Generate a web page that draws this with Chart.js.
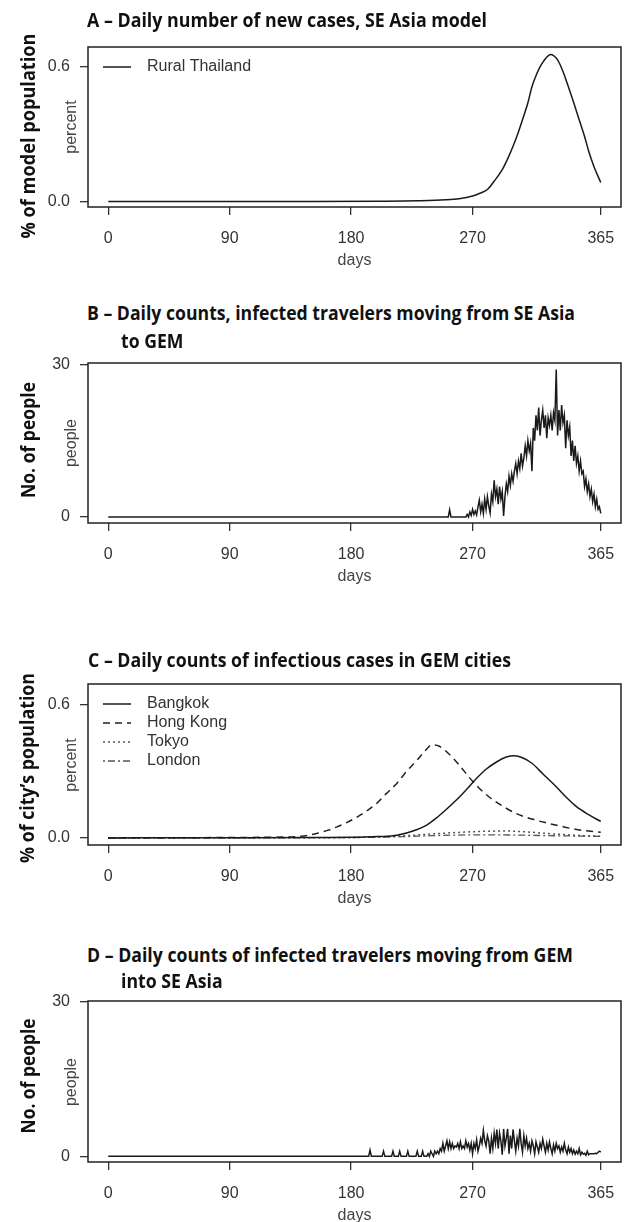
<!DOCTYPE html>
<html><head><meta charset="utf-8">
<script src="https://cdn.jsdelivr.net/npm/chart.js@4.4.1/dist/chart.umd.min.js"></script>
<style>
html,body{margin:0;padding:0;background:#fff;}
body{width:624px;height:1222px;position:relative;overflow:hidden;font-family:"Liberation Sans",Arial,sans-serif;}
canvas{position:absolute;left:0;}
.t{position:absolute;white-space:nowrap;transform-origin:0 50%;font-family:"Open Sans",sans-serif;font-weight:700;font-size:20px;line-height:24px;color:#111;}
.yl{position:absolute;white-space:nowrap;font-family:"Open Sans",sans-serif;font-weight:700;font-size:20px;line-height:24px;color:#111;}
.al{position:absolute;white-space:nowrap;font-family:"Liberation Sans",Arial,sans-serif;font-size:16px;line-height:18px;color:#444;}
</style></head><body>
<script>
// ---------------- data ----------------
const xTickValues = [0, 90, 180, 270, 365];
const percentTicks = [0, 0.6];
const peopleTicks = [0, 30];

// A - Rural Thailand, % of model population
const ruralDays = [0, 50, 100, 150, 200, 230, 250, 260, 270, 275, 281, 286, 292, 296, 300, 304, 307, 311, 314, 318, 320, 322, 324, 326, 328, 330, 332, 334, 337, 341, 345, 349, 353, 356, 360, 365];
const ruralThailand = [0, 0, 0, 0, 0.001, 0.003, 0.007, 0.012, 0.024, 0.035, 0.053, 0.09, 0.142, 0.19, 0.246, 0.31, 0.364, 0.44, 0.512, 0.575, 0.6, 0.62, 0.637, 0.649, 0.655, 0.651, 0.64, 0.621, 0.58, 0.512, 0.44, 0.364, 0.29, 0.225, 0.155, 0.084];

// B - travelers SE Asia -> GEM (0 before the first listed day)
const toGEMFirstDay = 248;
const travelersToGEM = [
  0,0,0,0,0,1.4,0,0,0,0,
  0,0,0,0,0,0,0,0,0.5,0,
  1,0.3,1.5,0.5,1.2,0.4,2,3.3,1,2.5,
  0.7,3.5,1.5,4,2.2,0.8,4.5,3,7.2,4,
  5.5,2.5,6,3.5,5,0.2,4,6.5,5,8,
  6.2,8.5,7,9,10.5,8.5,11,9.5,12.5,10,
  11.5,14,12,15,13,14.5,9,17.5,15,20,
  17,21.5,16,19,21,17.5,20,15.5,19.5,18,
  20,17,20.5,19,29,16,21,17,22,18.5,
  20,13.5,19,16,17.7,12,15,11,14,10.5,
  12,9,11,8.5,9,6,7.5,5,6.5,4,
  5.5,3,4.5,2,3.5,1.5,2,0.7
];

// C - GEM cities, % of city's population
const bangkokDays = [0, 100, 150, 190, 200, 214, 228, 236, 243, 250, 258, 266, 273, 280, 288, 295, 301, 307, 314, 322, 332, 340, 347, 356, 365];
const bangkok = [0, 0.001, 0.002, 0.004, 0.006, 0.012, 0.036, 0.058, 0.089, 0.126, 0.171, 0.222, 0.269, 0.31, 0.344, 0.365, 0.371, 0.362, 0.337, 0.29, 0.231, 0.18, 0.141, 0.105, 0.074];
const hongKongDays = [0, 60, 100, 130, 140, 148, 155, 163, 170, 177, 185, 192, 199, 206, 214, 221, 229, 235, 240, 245, 252, 260, 267, 274, 282, 292, 302, 314, 326, 336, 346, 356, 365];
const hongKong = [0, 0.001, 0.002, 0.004, 0.006, 0.012, 0.021, 0.035, 0.051, 0.07, 0.096, 0.124, 0.156, 0.2, 0.247, 0.3, 0.352, 0.395, 0.42, 0.415, 0.382, 0.33, 0.277, 0.23, 0.186, 0.145, 0.111, 0.085, 0.066, 0.052, 0.039, 0.031, 0.026];
const tokyoDays = [0, 150, 200, 220, 240, 260, 280, 295, 310, 330, 350, 365];
const tokyo = [0, 0.001, 0.004, 0.01, 0.018, 0.025, 0.03, 0.031, 0.027, 0.018, 0.011, 0.007];
const londonDays = [0, 150, 200, 220, 240, 260, 280, 300, 320, 340, 365];
const london = [0, 0.001, 0.003, 0.006, 0.01, 0.013, 0.014, 0.013, 0.011, 0.009, 0.007];

// D - travelers GEM -> SE Asia (0 before the first listed day)
const fromGEMFirstDay = 190;
const travelersFromGEM = [
  0,0,0,0,1.2,0,0,0,0,0,
  0,0,0,0,1,0,0,0,0,0,
  0,1,0,0,0,0,1,0,0,0,
  0,0,1,0,0,0,0,0,0,1,
  0,0,0,1,0,0,0,0.5,0,1,
  0.5,0,1,0.5,1,0.5,1.5,1,2.5,1,
  2,3,1.5,2.8,1.5,2.5,1.5,2,1.8,2.5,
  1.5,2.8,1.5,2,1.5,3,1.8,2.5,1.2,2.5,
  0.5,2.5,1.5,3.2,1,2,3.5,2.5,5,3,
  2,4,3,0.5,3.5,1.5,4.5,2.5,5.2,1.5,
  4.5,3,0.3,5.3,2,3.5,5.3,0.5,4,1.5,
  5.2,3,1,3.5,2,5.3,2.5,0.8,4,2,
  3.5,1.5,2.5,1,3,2,0.5,2.8,1.8,0.8,
  2.5,1.5,3.3,2,0.8,2.5,1.2,2.8,1.5,0.5,
  2.2,1,2.5,1.5,2,0.8,1.8,1,2.5,1.2,
  0.5,1.8,0.8,1.5,0.5,1.2,0.4,1,0.5,1.5,
  0.3,0.8,0.4,0.6,0.2,1,0.3,0.5,0.5,0.5,
  0.5,0.6,0.5,0.8,1,0.8
];

// ---------------- helpers ----------------
const pairs = (xs, ys) => xs.map((x, i) => ({x: x, y: ys[i]}));
const daily = (first, ys) => [{x: 0, y: 0}].concat(ys.map((y, i) => ({x: first + i, y: y})));

const PLOT_LEFT = 88, PLOT_RIGHT = 621, PAD_TOP = 16, XAXIS_H = 45;

const boxLegend = {
  id: 'boxLegend',
  afterDatasetsDraw(chart, args, opts) {
    const ctx = chart.ctx, a = chart.chartArea;
    ctx.save();
    ctx.setLineDash([]);
    ctx.strokeStyle = '#222'; ctx.lineWidth = 1.5;
    ctx.strokeRect(a.left, a.top, a.right - a.left, a.bottom - a.top);
    if (opts && opts.show) {
      chart.data.datasets.forEach((ds, i) => {
        const y = a.top + 20 + i * 19;
        ctx.beginPath();
        ctx.setLineDash(ds.borderDash || []);
        ctx.strokeStyle = ds.borderColor; ctx.lineWidth = ds.borderWidth;
        ctx.moveTo(a.left + 15, y); ctx.lineTo(a.left + 43, y); ctx.stroke();
        ctx.setLineDash([]);
        ctx.fillStyle = '#333';
        ctx.font = '16px "Liberation Sans", Arial, sans-serif';
        ctx.textBaseline = 'middle';
        ctx.fillText(ds.label, a.left + 59, y);
      });
    }
    ctx.restore();
  }
};

function makePanel(plotTop, plotBottom, yMin, yMax, yTicks, yFmt, datasets, showLegend) {
  const cv = document.createElement('canvas');
  const top = plotTop - PAD_TOP;
  const h = plotBottom - top + XAXIS_H;
  cv.width = 624; cv.height = h;
  cv.style.top = top + 'px'; cv.style.width = '624px'; cv.style.height = h + 'px';
  document.body.appendChild(cv);
  const tickFont = {family: '"Liberation Sans", Arial, sans-serif', size: 16};
  new Chart(cv, {
    type: 'line',
    data: {datasets: datasets},
    options: {
      responsive: false, animation: false, devicePixelRatio: 1,
      layout: {padding: {left: 0, right: 624 - PLOT_RIGHT, top: PAD_TOP, bottom: 0}},
      plugins: {legend: {display: false}, tooltip: {enabled: false}, boxLegend: {show: showLegend}},
      elements: {point: {radius: 0}},
      scales: {
        x: {
          type: 'linear', min: -15, max: 380,
          afterBuildTicks: s => { s.ticks = xTickValues.map(v => ({value: v})); },
          afterFit: s => { s.height = XAXIS_H; s.paddingLeft = 0; s.paddingRight = 0; },
          ticks: {font: tickFont, color: '#333', padding: 14, maxRotation: 0, autoSkip: false, callback: v => String(v)},
          grid: {display: true, drawOnChartArea: false, drawTicks: true, tickLength: 8, color: '#333', lineWidth: 1.3},
          border: {display: false}
        },
        y: {
          type: 'linear', min: yMin, max: yMax,
          afterBuildTicks: s => { s.ticks = yTicks.map(v => ({value: v})); },
          afterFit: s => { s.width = PLOT_LEFT; s.paddingTop = 0; s.paddingBottom = 0; },
          ticks: {font: tickFont, color: '#333', padding: 10, autoSkip: false, callback: yFmt},
          grid: {display: true, drawOnChartArea: false, drawTicks: true, tickLength: 8, color: '#333', lineWidth: 1.3},
          border: {display: false}
        }
      }
    },
    plugins: [boxLegend]
  });
}

function addTitle(lines, left, centers, width1) {
  let s = 1;
  lines.forEach((txt, i) => {
    const el = document.createElement('div');
    el.className = 't'; el.textContent = txt;
    document.body.appendChild(el);
    el.style.left = (i === 0 ? left : left + 34) + 'px';
    el.style.top = (centers[i] - 12) + 'px';
    if (i === 0) s = width1 / el.getBoundingClientRect().width;
    el.style.transform = 'scaleX(' + s + ')';
  });
}
function vLabel(txt, cls, cx, cy, len) {
  const el = document.createElement('div');
  el.className = cls; el.textContent = txt;
  document.body.appendChild(el);
  const r = el.getBoundingClientRect();
  const s = len ? len / r.width : 1;
  el.style.left = (cx - r.width / 2) + 'px';
  el.style.top = (cy - r.height / 2) + 'px';
  el.style.transform = 'rotate(-90deg) scaleX(' + s + ')';
}
function hLabel(txt, cx, cy) {
  const el = document.createElement('div');
  el.className = 'al'; el.textContent = txt;
  document.body.appendChild(el);
  const r = el.getBoundingClientRect();
  el.style.left = (cx - r.width / 2) + 'px';
  el.style.top = (cy - r.height / 2) + 'px';
}

const pctFmt = v => Number(v).toFixed(1);
const intFmt = v => String(v);
const solid = (label, data, w) => ({label: label, data: data, borderColor: '#1a1a1a', borderWidth: w, pointRadius: 0, tension: 0, fill: false});

// Panel A
const pA = [47, 207];
makePanel(pA[0], pA[1], -0.025, 0.689, percentTicks, pctFmt,
  [Object.assign(solid('Rural Thailand', pairs(ruralDays, ruralThailand), 1.5), {cubicInterpolationMode: 'monotone'})], true);
// Panel B
const pB = [363, 523];
makePanel(pB[0], pB[1], -1.18, 30.26, peopleTicks, intFmt,
  [solid('SE Asia to GEM', daily(toGEMFirstDay, travelersToGEM), 1.5)], false);
// Panel C
const pC = [684, 845];
makePanel(pC[0], pC[1], -0.032, 0.695, percentTicks, pctFmt, [
  {label: 'Bangkok', data: pairs(bangkokDays, bangkok), borderColor: '#1a1a1a', borderWidth: 1.5, cubicInterpolationMode: 'monotone', pointRadius: 0},
  {label: 'Hong Kong', data: pairs(hongKongDays, hongKong), borderColor: '#222', borderWidth: 1.5, borderDash: [7, 5], cubicInterpolationMode: 'monotone', pointRadius: 0},
  {label: 'Tokyo', data: pairs(tokyoDays, tokyo), borderColor: '#555', borderWidth: 1.5, borderDash: [2, 3], cubicInterpolationMode: 'monotone', pointRadius: 0},
  {label: 'London', data: pairs(londonDays, london), borderColor: '#555', borderWidth: 1.3, borderDash: [2, 3, 7, 3], cubicInterpolationMode: 'monotone', pointRadius: 0}
], true);
// Panel D
const pD = [1001, 1162];
makePanel(pD[0], pD[1], -1.1, 30.06, peopleTicks, intFmt,
  [solid('GEM to SE Asia', daily(fromGEMFirstDay, travelersFromGEM), 1.5)], false);

// ---------------- text ----------------
addTitle(['A \u2013 Daily number of new cases, SE Asia model'], 87, [20], 400);
addTitle(['B \u2013 Daily counts, infected travelers moving from SE Asia', 'to GEM'], 87, [313, 341], 488);
addTitle(['C \u2013 Daily counts of infectious cases in GEM cities'], 88, [660], 423);
addTitle(['D \u2013 Daily counts of infected travelers moving from GEM', 'into SE Asia'], 87, [955, 981], 486);

vLabel('% of model population', 'yl', 28, 136, 205);
vLabel('No. of people', 'yl', 28, 440, 116);
vLabel('% of city\u2019s population', 'yl', 27, 768, 190);
vLabel('No. of people', 'yl', 28, 1076, 115);

[[pA, 'percent'], [pB, 'people'], [pC, 'percent'], [pD, 'people']].forEach(([p, t]) => {
  vLabel(t, 'al', 71, (p[0] + p[1]) / 2, 0);
  hLabel('days', (PLOT_LEFT + PLOT_RIGHT) / 2, p[1] + 53);
});
</script>
</body></html>
